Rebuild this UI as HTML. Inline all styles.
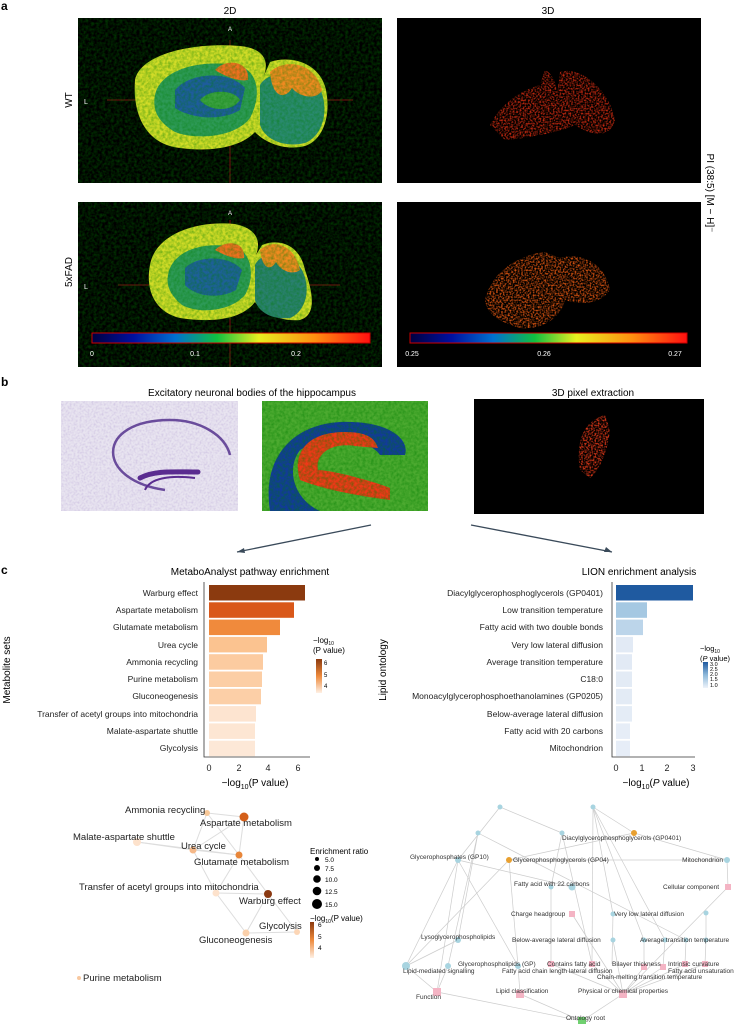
<!DOCTYPE html>
<html><head><meta charset="utf-8"><style>
html,body{margin:0;padding:0;background:#fff;}
svg{display:block;font-family:"Liberation Sans",sans-serif;}
</style></head><body>
<svg width="741" height="1024" viewBox="0 0 741 1024" xmlns="http://www.w3.org/2000/svg">
<defs>
<linearGradient id="jet" x1="0" x2="1" y1="0" y2="0">
<stop offset="0" stop-color="#000040"/><stop offset="0.15" stop-color="#0010a0"/><stop offset="0.3" stop-color="#0070d0"/><stop offset="0.45" stop-color="#10c040"/><stop offset="0.6" stop-color="#e8f020"/><stop offset="0.8" stop-color="#ff9010"/><stop offset="1" stop-color="#ff1010"/>
</linearGradient>
<linearGradient id="org" x1="0" x2="0" y1="0" y2="1"><stop offset="0" stop-color="#8b3a0f"/><stop offset="0.5" stop-color="#ee8a3c"/><stop offset="1" stop-color="#fef0e4"/></linearGradient>
<linearGradient id="blu" x1="0" x2="0" y1="0" y2="1"><stop offset="0" stop-color="#1f5aa0"/><stop offset="0.5" stop-color="#8fbadb"/><stop offset="1" stop-color="#eef3fa"/></linearGradient>
<filter id="noise" x="0" y="0" width="100%" height="100%"><feTurbulence type="fractalNoise" baseFrequency="0.35" numOctaves="2" result="n"/><feColorMatrix in="n" type="matrix" values="0 0 0 0 0  0 0 0 0 0.2  0 0 0 0 0  0 0 0 -1.6 1.1"/><feComposite in2="SourceGraphic" operator="in"/></filter>
<filter id="pnoise" x="0" y="0" width="100%" height="100%"><feTurbulence type="fractalNoise" baseFrequency="0.5" numOctaves="2" result="n"/><feColorMatrix in="n" type="matrix" values="0 0 0 0 0.45  0 0 0 0 0.35  0 0 0 0 0.65  0 0 0 -2 1.2"/><feComposite in2="SourceGraphic" operator="in"/></filter>
<filter id="speck" x="-5%" y="-5%" width="110%" height="110%"><feTurbulence type="fractalNoise" baseFrequency="0.6" numOctaves="1" result="n"/><feColorMatrix in="n" type="matrix" values="0 0 0 0 0  0 0 0 0 0  0 0 0 0 0  0 0 0 3 -1.2" result="m"/><feComposite in="SourceGraphic" in2="m" operator="in"/></filter>
<filter id="blur1"><feGaussianBlur stdDeviation="2"/></filter>
</defs>

<!-- Panel a -->
<text x="1" y="10" font-size="12" font-weight="bold">a</text>
<text x="230" y="14" font-size="10" text-anchor="middle">2D</text>
<text x="548" y="14" font-size="10" text-anchor="middle">3D</text>
<rect x="78" y="18" width="304" height="165" fill="#000"/>
<rect x="397" y="18" width="304" height="165" fill="#000"/>
<rect x="78" y="202" width="304" height="165" fill="#000"/>
<rect x="397" y="202" width="304" height="165" fill="#000"/>
<text transform="translate(72,100) rotate(-90)" font-size="10" text-anchor="middle">WT</text>
<text transform="translate(72,272) rotate(-90)" font-size="10" text-anchor="middle">5xFAD</text>
<text transform="translate(707,193) rotate(90)" font-size="10" text-anchor="middle">PI (38:5) [M − H]⁻</text>

<!-- WT brain -->
<g>
<line x1="107" y1="100" x2="353" y2="100" stroke="#7a1010" stroke-width="1"/>
<line x1="230" y1="40" x2="230" y2="183" stroke="#7a1010" stroke-width="1"/>
<path d="M135,80 C140,55 190,42 240,46 C262,48 272,60 262,80 L270,62 C290,55 320,62 326,90 C332,120 320,145 300,147 C280,150 262,140 255,132 C240,148 210,152 180,148 C150,145 132,120 135,80Z" fill="#d2dc28"/>
<path d="M155,95 C160,70 200,58 240,66 C258,72 262,95 250,118 C235,138 195,140 175,132 C158,122 152,110 155,95Z" fill="#2e9a58"/>
<path d="M175,90 C190,72 230,70 245,88 L240,110 C220,122 190,118 175,108Z" fill="#1a4cb0" opacity="0.8"/>
<path d="M200,100 C210,88 235,90 240,100 C232,112 210,112 200,100Z" fill="#3aa040"/>
<path d="M260,85 C268,70 300,70 318,85 C330,105 325,135 305,143 C285,148 265,140 260,125Z" fill="#2a8a70"/>
<path d="M270,72 C285,58 315,62 322,90 C318,100 300,98 292,88 C285,100 272,98 270,72Z" fill="#f08a20"/>
<path d="M215,70 C225,58 250,60 248,80 C238,82 225,76 215,70Z" fill="#f07020"/>
<rect x="78" y="18" width="304" height="165" fill="#888" filter="url(#noise)" opacity="0.5"/>
<text x="230" y="31" font-size="6" fill="#fff" text-anchor="middle">A</text>
<text x="84" y="104" font-size="7" fill="#fff">L</text>
</g>
<!-- 5xFAD brain -->
<g>
<line x1="118" y1="285" x2="340" y2="285" stroke="#7a1010"/>
<line x1="230" y1="220" x2="230" y2="367" stroke="#7a1010"/>
<path d="M150,265 C155,235 195,220 235,224 C255,228 262,240 256,255 L262,245 C280,238 300,245 305,270 C312,290 318,315 300,320 C280,322 262,312 255,302 C240,322 205,322 180,318 C155,312 145,290 150,265Z" fill="#d2dc28"/>
<path d="M168,275 C172,250 205,240 238,248 C252,255 255,278 245,295 C230,312 198,314 182,305 C170,295 166,285 168,275Z" fill="#2e9a58"/>
<path d="M185,268 C198,255 230,255 242,270 L236,290 C218,300 195,296 185,285Z" fill="#1a4cb0" opacity="0.75"/>
<path d="M255,265 C262,250 290,250 302,270 C312,290 305,312 290,318 C272,320 258,312 255,300Z" fill="#2a8070"/>
<path d="M260,250 C272,238 295,244 300,270 C292,276 280,270 276,262 C270,272 262,268 260,250Z" fill="#f08a20"/>
<path d="M215,250 C225,240 245,240 244,258 C235,260 224,255 215,250Z" fill="#f07020"/>
<rect x="78" y="202" width="304" height="165" fill="#888" filter="url(#noise)" opacity="0.5"/>
<text x="230" y="215" font-size="6" fill="#fff" text-anchor="middle">A</text>
<text x="84" y="289" font-size="7" fill="#fff">L</text>
</g>
<!-- 3D blobs -->
<g filter="url(#speck)">
<path d="M490,125 C500,105 520,90 540,85 L545,70 C555,75 560,90 555,110 L560,72 C580,65 610,90 615,120 C610,140 590,135 575,125 C560,132 530,138 505,140Z" fill="#c02810"/>
<path d="M485,300 C492,270 520,255 545,252 L560,258 C580,252 605,262 610,290 C600,305 580,305 565,300 C560,320 540,330 520,328 C500,322 487,315 485,300Z" fill="#d05010"/>
</g>
<!-- colorbars -->
<rect x="92" y="333" width="278" height="10" fill="url(#jet)" stroke="#c00" stroke-width="1"/>
<rect x="410" y="333" width="277" height="10" fill="url(#jet)" stroke="#c00" stroke-width="1"/>
<g font-size="7" fill="#fff" text-anchor="middle">
<text x="92" y="356">0</text><text x="195" y="356">0.1</text><text x="296" y="356">0.2</text>
<text x="412" y="356">0.25</text><text x="544" y="356">0.26</text><text x="675" y="356">0.27</text></g>

<!-- Panel b -->
<text x="1" y="386" font-size="12" font-weight="bold">b</text>
<text x="252" y="396" font-size="10" text-anchor="middle">Excitatory neuronal bodies of the hippocampus</text>
<text x="593" y="396" font-size="10" text-anchor="middle">3D pixel extraction</text>
<rect x="61" y="401" width="177" height="110" fill="#e8e4f0"/>
<rect x="61" y="401" width="177" height="110" fill="#fff" filter="url(#pnoise)" opacity="0.45"/>
<path d="M165,490 C95,480 95,420 170,420 C200,420 225,435 230,455" fill="none" stroke="#6a4c9c" stroke-width="2.5"/>
<path d="M200,478 C215,470 235,472 258,472" fill="none" stroke="#5a2c90" stroke-width="5" stroke-linecap="round" transform="translate(-60,-0)"/>
<path d="M205,490 C210,478 230,475 255,478" fill="none" stroke="#5a2c90" stroke-width="2" transform="translate(-60,0)"/>
<rect x="262" y="401" width="166" height="110" fill="#4caa30"/>
<path d="M270,511 C262,460 290,425 340,422 C390,420 410,440 405,455 L380,455 C370,440 330,432 300,450 C285,470 295,500 320,511Z" fill="#123a9a"/>
<path d="M300,480 C292,455 305,432 345,432 C370,432 375,440 378,448 L355,446 C330,442 315,455 318,470 C330,470 370,480 390,488 L390,500 C360,496 325,490 300,480Z" fill="#f03818"/>
<rect x="262" y="401" width="166" height="110" fill="#e0e020" filter="url(#noise)" opacity="0.55"/>
<rect x="474" y="399" width="230" height="115" fill="#000"/>
<g filter="url(#speck)"><path d="M580,470 C575,440 585,420 605,415 L610,430 C608,450 600,470 590,478Z" fill="#e03818"/></g>
<line x1="371" y1="525" x2="237" y2="552" stroke="#3a4a5a" stroke-width="1.3"/>
<path d="M237,552 l7,-4 l1,5z" fill="#3a4a5a"/>
<line x1="471" y1="525" x2="612" y2="552" stroke="#3a4a5a" stroke-width="1.3"/>
<path d="M612,552 l-8,0 l2,-5z" fill="#3a4a5a"/>

<!-- Panel c left bar chart -->
<text x="1" y="574" font-size="12" font-weight="bold">c</text>
<text x="250" y="575" font-size="10" text-anchor="middle">MetaboAnalyst pathway enrichment</text>
<g>
<rect x="209" y="585" width="96" height="15.5" fill="#8b3a0f"/>
<rect x="209" y="602.3" width="85" height="15.5" fill="#d9581a"/>
<rect x="209" y="619.6" width="71" height="15.5" fill="#f08a3c"/>
<rect x="209" y="636.9" width="58" height="15.5" fill="#fbc390"/>
<rect x="209" y="654.2" width="54" height="15.5" fill="#fccba0"/>
<rect x="209" y="671.5" width="53" height="15.5" fill="#fccea5"/>
<rect x="209" y="688.8" width="52" height="15.5" fill="#fccfa7"/>
<rect x="209" y="706.1" width="47" height="15.5" fill="#fde4d0"/>
<rect x="209" y="723.4" width="46" height="15.5" fill="#fde6d3"/>
<rect x="209" y="740.7" width="46" height="15.5" fill="#fde8d7"/>
<polyline points="204,582 204,757 310,757" fill="none" stroke="#333" stroke-width="0.8"/>
</g>
<g font-size="8.5" text-anchor="end" fill="#222">
<text x="198" y="596">Warburg effect</text><text x="198" y="613">Aspartate metabolism</text><text x="198" y="630">Glutamate metabolism</text><text x="198" y="648">Urea cycle</text><text x="198" y="665">Ammonia recycling</text><text x="198" y="682">Purine metabolism</text><text x="198" y="699">Gluconeogenesis</text><text x="198" y="717">Transfer of acetyl groups into mitochondria</text><text x="198" y="734">Malate-aspartate shuttle</text><text x="198" y="751">Glycolysis</text>
</g>
<g font-size="9" text-anchor="middle" fill="#222"><text x="209" y="771">0</text><text x="239" y="771">2</text><text x="268" y="771">4</text><text x="298" y="771">6</text></g>
<text x="255" y="786" font-size="10" text-anchor="middle">−log<tspan font-size="7" dy="3">10</tspan><tspan dy="-3">(P value)</tspan></text>
<text transform="translate(10,670) rotate(-90)" font-size="10" text-anchor="middle">Metabolite sets</text>
<text x="313" y="643" font-size="8">−log<tspan font-size="5" dy="2">10</tspan></text>
<text x="313" y="653" font-size="8">(P value)</text>
<rect x="316" y="659" width="6" height="34" fill="url(#org)"/>
<g font-size="6"><text x="324" y="665">6</text><text x="324" y="677">5</text><text x="324" y="688">4</text></g>

<!-- Panel c right bar chart -->
<text x="639" y="575" font-size="10" text-anchor="middle">LION enrichment analysis</text>
<rect x="616" y="585" width="77" height="15.5" fill="#1f5aa0"/>
<rect x="616" y="602.3" width="31" height="15.5" fill="#a5c8e2"/>
<rect x="616" y="619.6" width="27" height="15.5" fill="#bcd5ea"/>
<rect x="616" y="636.9" width="17" height="15.5" fill="#e2eaf5"/>
<rect x="616" y="654.2" width="16" height="15.5" fill="#e2eaf5"/>
<rect x="616" y="671.5" width="16" height="15.5" fill="#e3ebf5"/>
<rect x="616" y="688.8" width="16" height="15.5" fill="#e3ebf5"/>
<rect x="616" y="706.1" width="16" height="15.5" fill="#e4ecf6"/>
<rect x="616" y="723.4" width="14" height="15.5" fill="#e6edf7"/>
<rect x="616" y="740.7" width="14" height="15.5" fill="#e6edf7"/>
<polyline points="612,582 612,757 695,757" fill="none" stroke="#333" stroke-width="0.8"/>
<g font-size="8.5" text-anchor="end" fill="#222">
<text x="603" y="596">Diacylglycerophosphoglycerols (GP0401)</text><text x="603" y="613">Low transition temperature</text><text x="603" y="630">Fatty acid with two double bonds</text><text x="603" y="648">Very low lateral diffusion</text><text x="603" y="665">Average transition temperature</text><text x="603" y="682">C18:0</text><text x="603" y="699">Monoacylglycerophosphoethanolamines (GP0205)</text><text x="603" y="717">Below-average lateral diffusion</text><text x="603" y="734">Fatty acid with 20 carbons</text><text x="603" y="751">Mitochondrion</text>
</g>
<g font-size="9" text-anchor="middle" fill="#222"><text x="616" y="771">0</text><text x="642" y="771">1</text><text x="667" y="771">2</text><text x="693" y="771">3</text></g>
<text x="656" y="786" font-size="10" text-anchor="middle">−log<tspan font-size="7" dy="3">10</tspan><tspan dy="-3">(</tspan><tspan font-style="italic">P</tspan> value)</text>
<text transform="translate(386,670) rotate(-90)" font-size="10" text-anchor="middle">Lipid ontology</text>
<text x="700" y="651" font-size="7.5">−log<tspan font-size="5" dy="2">10</tspan></text>
<text x="700" y="661" font-size="7.5">(<tspan font-style="italic">P</tspan> value)</text>
<rect x="703" y="662" width="5" height="26" fill="url(#blu)"/>
<g font-size="5.5"><text x="710" y="666">3.0</text><text x="710" y="671">2.5</text><text x="710" y="676">2.0</text><text x="710" y="681">1.5</text><text x="710" y="687">1.0</text></g>

<!-- Left network -->
<g stroke="#ddd" stroke-width="1" fill="none">
<line x1="207" y1="813" x2="244" y2="817"/><line x1="207" y1="813" x2="193" y2="850"/><line x1="207" y1="813" x2="239" y2="855"/>
<line x1="137" y1="842" x2="193" y2="850"/><line x1="137" y1="842" x2="239" y2="855"/>
<line x1="193" y1="850" x2="244" y2="817"/><line x1="193" y1="850" x2="239" y2="855"/><line x1="244" y1="817" x2="239" y2="855"/>
<line x1="193" y1="850" x2="216" y2="893"/><line x1="239" y1="855" x2="268" y2="894"/><line x1="239" y1="855" x2="216" y2="893"/>
<line x1="216" y1="893" x2="268" y2="894"/><line x1="216" y1="893" x2="246" y2="933"/><line x1="268" y1="894" x2="246" y2="933"/>
<line x1="268" y1="894" x2="297" y2="932"/><line x1="246" y1="933" x2="297" y2="932"/>
</g>
<circle cx="207" cy="813" r="3" fill="#f8c898"/>
<circle cx="244" cy="817" r="4.5" fill="#d4601a"/>
<circle cx="137" cy="842" r="4" fill="#fde2cc"/>
<circle cx="193" cy="850" r="3.5" fill="#f5b888"/>
<circle cx="239" cy="855" r="3.5" fill="#e8863a"/>
<circle cx="216" cy="893" r="3.5" fill="#fde2cc"/>
<circle cx="268" cy="894" r="4" fill="#8b3a12"/>
<circle cx="297" cy="932" r="3" fill="#fcd6b6"/>
<circle cx="246" cy="933" r="3.5" fill="#fbd0aa"/>
<circle cx="79" cy="978" r="2" fill="#f8c8a0"/>
<g font-size="9.5" fill="#222">
<text x="125" y="813">Ammonia recycling</text><text x="200" y="826">Aspartate metabolism</text><text x="73" y="840">Malate-aspartate shuttle</text><text x="181" y="849">Urea cycle</text><text x="194" y="865">Glutamate metabolism</text><text x="79" y="890">Transfer of acetyl groups into mitochondria</text><text x="239" y="904">Warburg effect</text><text x="259" y="929">Glycolysis</text><text x="199" y="943">Gluconeogenesis</text><text x="83" y="981">Purine metabolism</text>
</g>
<text x="310" y="854" font-size="8">Enrichment ratio</text>
<circle cx="317" cy="859" r="2" fill="#000"/><circle cx="317" cy="868" r="3" fill="#000"/><circle cx="317" cy="879" r="3.8" fill="#000"/><circle cx="317" cy="891" r="4.3" fill="#000"/><circle cx="317" cy="904" r="5" fill="#000"/>
<g font-size="6.5"><text x="325" y="862">5.0</text><text x="325" y="871">7.5</text><text x="325" y="882">10.0</text><text x="325" y="894">12.5</text><text x="325" y="907">15.0</text></g>
<text x="310" y="921" font-size="8">−log<tspan font-size="5" dy="2">10</tspan><tspan dy="-2">(P value)</tspan></text>
<rect x="310" y="922" width="4" height="36" fill="url(#org)"/>
<g font-size="6.5"><text x="318" y="927">6</text><text x="318" y="939">5</text><text x="318" y="950">4</text></g>

<!-- Right network -->
<g stroke="#ccc" stroke-width="0.7" fill="none">
<line x1="500" y1="807" x2="458" y2="860"/><line x1="500" y1="807" x2="562" y2="833"/>
<line x1="593" y1="807" x2="634" y2="833"/><line x1="593" y1="807" x2="613" y2="914"/><line x1="593" y1="807" x2="644" y2="940"/><line x1="593" y1="807" x2="665" y2="940"/><line x1="593" y1="807" x2="592" y2="964"/>
<line x1="478" y1="833" x2="458" y2="940"/><line x1="478" y1="833" x2="448" y2="966"/><line x1="478" y1="833" x2="686" y2="940"/>
<line x1="562" y1="833" x2="551" y2="887"/><line x1="562" y1="833" x2="592" y2="964"/>
<line x1="634" y1="833" x2="727" y2="860"/><line x1="509" y1="860" x2="634" y2="833"/>
<line x1="458" y1="860" x2="406" y2="966"/><line x1="458" y1="860" x2="437" y2="992"/><line x1="458" y1="860" x2="518" y2="966"/><line x1="458" y1="860" x2="572" y2="887"/>
<line x1="509" y1="860" x2="406" y2="966"/><line x1="509" y1="860" x2="518" y2="966"/><line x1="509" y1="860" x2="727" y2="860"/>
<line x1="727" y1="860" x2="728" y2="887"/><line x1="706" y1="913" x2="706" y2="940"/>
<line x1="728" y1="887" x2="623" y2="994"/><line x1="551" y1="887" x2="551" y2="964"/><line x1="572" y1="914" x2="623" y2="994"/>
<line x1="613" y1="914" x2="612" y2="964"/><line x1="613" y1="940" x2="623" y2="994"/>
<line x1="644" y1="940" x2="644" y2="967"/><line x1="665" y1="940" x2="663" y2="967"/><line x1="686" y1="940" x2="685" y2="964"/><line x1="706" y1="940" x2="705" y2="964"/>
<line x1="406" y1="966" x2="437" y2="992"/><line x1="448" y1="966" x2="437" y2="992"/><line x1="458" y1="940" x2="406" y2="966"/>
<line x1="437" y1="992" x2="582" y2="1021"/><line x1="520" y1="994" x2="582" y2="1021"/><line x1="623" y1="994" x2="582" y2="1021"/>
<line x1="518" y1="966" x2="520" y2="994"/><line x1="551" y1="964" x2="623" y2="994"/><line x1="592" y1="964" x2="623" y2="994"/><line x1="644" y1="967" x2="623" y2="994"/><line x1="663" y1="967" x2="623" y2="994"/><line x1="685" y1="964" x2="623" y2="994"/><line x1="705" y1="964" x2="623" y2="994"/>
</g>
<g fill="#a8d4e0">
<circle cx="500" cy="807" r="2.5"/><circle cx="593" cy="807" r="2.5"/><circle cx="478" cy="833" r="2.5"/><circle cx="562" cy="833" r="2.5"/>
<circle cx="458" cy="860" r="3"/><circle cx="727" cy="860" r="3"/><circle cx="551" cy="887" r="2.5"/><circle cx="572" cy="887" r="3.5"/>
<circle cx="613" cy="914" r="2.5"/><circle cx="706" cy="913" r="2.5"/><circle cx="458" cy="940" r="3"/><circle cx="613" cy="940" r="2.5"/>
<circle cx="644" cy="940" r="2.5"/><circle cx="665" cy="940" r="2.5"/><circle cx="686" cy="940" r="2.5"/><circle cx="706" cy="940" r="2.5"/>
<circle cx="406" cy="966" r="4"/><circle cx="448" cy="966" r="3"/><circle cx="518" cy="966" r="3"/>
</g>
<circle cx="634" cy="833" r="3" fill="#e8a030"/><circle cx="509" cy="860" r="3" fill="#e8a030"/>
<g fill="#f4b4c4">
<rect x="725" y="884" width="6" height="6"/><rect x="569" y="911" width="6" height="6"/><rect x="548" y="961" width="6" height="6"/><rect x="589" y="961" width="6" height="6"/><rect x="641" y="964" width="6" height="6"/><rect x="660" y="964" width="6" height="6"/><rect x="682" y="961" width="6" height="6"/><rect x="702" y="961" width="6" height="6"/>
<rect x="433" y="988" width="8" height="8"/><rect x="516" y="990" width="8" height="8"/><rect x="619" y="990" width="8" height="8"/>
</g>
<rect x="578" y="1017" width="8" height="7" fill="#70d070"/>
<g font-size="6.5" fill="#333">
<text x="562" y="840">Diacylglycerophosphoglycerols (GP0401)</text>
<text x="410" y="859">Glycerophosphates (GP10)</text>
<text x="513" y="862">Glycerophosphoglycerols (GP04)</text>
<text x="723" y="862" text-anchor="end">Mitochondrion</text>
<text x="514" y="886">Fatty acid with 22 carbons</text>
<text x="663" y="889">Cellular component</text>
<text x="511" y="916">Charge headgroup</text>
<text x="614" y="916">Very low lateral diffusion</text>
<text x="421" y="939">Lysoglycerophospholipids</text>
<text x="512" y="942">Below-average lateral diffusion</text>
<text x="640" y="942">Average transition temperature</text>
<text x="458" y="966">Glycerophospholipids (GP)</text>
<text x="547" y="966">Contains fatty acid</text>
<text x="612" y="966">Bilayer thickness</text>
<text x="668" y="966">Intrinsic curvature</text>
<text x="403" y="973">Lipid-mediated signalling</text>
<text x="502" y="973">Fatty acid chain length lateral diffusion</text>
<text x="668" y="973">Fatty acid unsaturation</text>
<text x="597" y="979">Chain-melting transition temperature</text>
<text x="416" y="999">Function</text>
<text x="496" y="993">Lipid classification</text>
<text x="578" y="993">Physical or chemical properties</text>
<text x="566" y="1020">Ontology root</text>
</g>
</svg>
</body></html>
